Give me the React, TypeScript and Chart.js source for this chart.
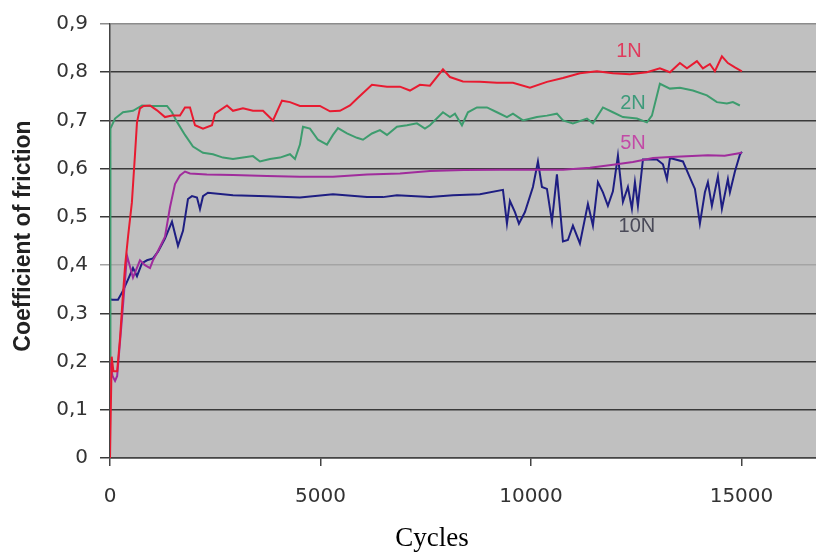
import React, { useEffect, useRef } from 'react';
import { Chart, registerables } from 'chart.js';

Chart.register(...registerables);

// ---- Data ----
const cycles1N = [0, 40, 80, 170, 240, 300, 360, 430, 520, 594, 641, 712, 800, 950, 1116, 1306, 1472, 1662, 1781, 1900, 2019, 2209, 2422, 2494, 2779, 2921, 3159, 3396, 3634, 3871, 4085, 4275, 4512, 4750, 4987, 5225, 5462, 5700, 5890, 6222, 6579, 6888, 7125, 7362, 7600, 7909, 8075, 8384, 8787, 9191, 9571, 9975, 10379, 10759, 11162, 11566, 11946, 12350, 12754, 13062, 13300, 13537, 13704, 13941, 14084, 14250, 14369, 14535, 14677, 14844, 15010];
const friction1N = [0, 0.21, 0.18, 0.18, 0.25, 0.33, 0.40, 0.46, 0.53, 0.63, 0.696, 0.725, 0.73, 0.731, 0.721, 0.707, 0.71, 0.71, 0.727, 0.727, 0.69, 0.683, 0.69, 0.714, 0.731, 0.72, 0.725, 0.72, 0.72, 0.70, 0.741, 0.738, 0.73, 0.73, 0.73, 0.719, 0.72, 0.731, 0.747, 0.774, 0.77, 0.77, 0.762, 0.774, 0.772, 0.806, 0.79, 0.781, 0.78, 0.778, 0.778, 0.768, 0.78, 0.788, 0.798, 0.802, 0.798, 0.796, 0.80, 0.808, 0.80, 0.819, 0.808, 0.823, 0.808, 0.817, 0.802, 0.833, 0.819, 0.81, 0.802];

const cycles2N = [0, 10, 119, 309, 546, 760, 950, 1140, 1354, 1472, 1591, 1781, 1971, 2209, 2446, 2684, 2921, 3159, 3396, 3562, 3800, 4037, 4275, 4394, 4512, 4584, 4750, 4940, 5154, 5296, 5415, 5629, 5866, 6009, 6222, 6412, 6579, 6816, 7054, 7291, 7481, 7600, 7909, 8075, 8194, 8360, 8502, 8716, 8954, 9191, 9429, 9571, 9809, 10141, 10379, 10616, 10759, 10996, 11329, 11471, 11709, 11946, 12184, 12516, 12754, 12872, 13062, 13300, 13537, 13846, 14179, 14416, 14654, 14796, 14962];
const friction2N = [0.2, 0.683, 0.704, 0.717, 0.72, 0.731, 0.73, 0.73, 0.73, 0.717, 0.697, 0.67, 0.646, 0.633, 0.63, 0.623, 0.62, 0.623, 0.626, 0.615, 0.62, 0.623, 0.63, 0.62, 0.65, 0.687, 0.683, 0.66, 0.65, 0.67, 0.684, 0.673, 0.664, 0.66, 0.673, 0.68, 0.67, 0.687, 0.69, 0.694, 0.683, 0.69, 0.717, 0.707, 0.714, 0.69, 0.717, 0.727, 0.727, 0.717, 0.707, 0.714, 0.70, 0.707, 0.71, 0.714, 0.70, 0.694, 0.704, 0.694, 0.727, 0.717, 0.707, 0.704, 0.696, 0.71, 0.776, 0.766, 0.768, 0.762, 0.752, 0.738, 0.735, 0.738, 0.731];

const cycles5N = [0, 60, 120, 170, 285, 404, 546, 712, 831, 950, 1021, 1116, 1306, 1425, 1544, 1662, 1781, 1900, 2300, 2921, 3729, 4512, 5296, 6104, 6888, 7600, 8400, 9260, 10100, 10760, 11400, 11950, 12420, 12900, 13300, 13700, 14200, 14600, 15010];
const friction5N = [0.2, 0.17, 0.16, 0.17, 0.29, 0.42, 0.374, 0.41, 0.40, 0.394, 0.41, 0.425, 0.459, 0.52, 0.568, 0.586, 0.594, 0.59, 0.588, 0.587, 0.585, 0.583, 0.583, 0.588, 0.59, 0.595, 0.597, 0.598, 0.598, 0.598, 0.602, 0.608, 0.614, 0.622, 0.624, 0.626, 0.628, 0.627, 0.633];

const cycles10N = [0, 48, 190, 309, 427, 546, 641, 760, 879, 1021, 1140, 1306, 1472, 1615, 1734, 1852, 1947, 2066, 2137, 2209, 2327, 2921, 3729, 4512, 5296, 6104, 6484, 6816, 7600, 8146, 8787, 9334, 9429, 9500, 9619, 9714, 9856, 10046, 10165, 10260, 10379, 10498, 10616, 10759, 10877, 10996, 11162, 11352, 11471, 11590, 11709, 11827, 11946, 12065, 12184, 12302, 12397, 12469, 12540, 12659, 12991, 13134, 13229, 13300, 13609, 13822, 13894, 14012, 14131, 14202, 14297, 14440, 14535, 14677, 14725, 14844, 14962, 15010];
const friction10N = [0.33, 0.328, 0.328, 0.347, 0.37, 0.394, 0.377, 0.404, 0.41, 0.414, 0.428, 0.455, 0.49, 0.44, 0.471, 0.537, 0.543, 0.54, 0.516, 0.543, 0.55, 0.545, 0.543, 0.54, 0.547, 0.541, 0.541, 0.545, 0.541, 0.545, 0.547, 0.556, 0.486, 0.533, 0.51, 0.486, 0.51, 0.562, 0.615, 0.562, 0.558, 0.49, 0.588, 0.449, 0.452, 0.482, 0.445, 0.527, 0.482, 0.572, 0.551, 0.523, 0.553, 0.627, 0.531, 0.562, 0.517, 0.572, 0.523, 0.619, 0.619, 0.609, 0.578, 0.622, 0.615, 0.572, 0.558, 0.486, 0.551, 0.572, 0.523, 0.584, 0.517, 0.578, 0.551, 0.594, 0.629, 0.635];

const seriesNames = ['1N', '2N', '5N', '10N'];
const seriesColors = ['#e81a30', '#3d9c6e', '#a02c9c', '#1e1e82'];
const labelColors = ['#e03a5c', '#3d9a7a', '#c24aa6', '#4a4a58'];
// label anchor positions in data units (cycles, friction)
const labelCycles = [12326, 12421, 12421, 12516];
const labelFriction = [0.842, 0.736, 0.652, 0.48];

const xTickValues = [0, 5000, 10000, 15000];
const xMin = 0;
const xMax = 16770;
const yMin = 0;
const yMax = 0.9;
const yStep = 0.1;

const xTitle = 'Cycles';
const yTitle = 'Coefficient of friction';

function toPoints(xs: number[], ys: number[]) {
  return xs.map((x, i) => ({ x, y: ys[i] }));
}

export default function App() {
  const ref = useRef<HTMLCanvasElement>(null);

  useEffect(() => {
    if (!ref.current) return;
    const allX = [cycles1N, cycles2N, cycles5N, cycles10N];
    const allY = [friction1N, friction2N, friction5N, friction10N];

    const bgPlugin = {
      id: 'plotBg',
      beforeDraw(chart: any) {
        const { ctx, chartArea } = chart;
        ctx.save();
        ctx.fillStyle = '#c0c0c0';
        ctx.fillRect(chartArea.left, chartArea.top, chartArea.right - chartArea.left, chartArea.bottom - chartArea.top);
        ctx.restore();
      },
    };

    const textPlugin = {
      id: 'texts',
      afterDatasetsDraw(chart: any) {
        const { ctx, scales } = chart;
        ctx.save();
        ctx.font = '20px "Liberation Sans", Arial, sans-serif';
        ctx.textAlign = 'center';
        ctx.textBaseline = 'middle';
        seriesNames.forEach((name, i) => {
          ctx.fillStyle = labelColors[i];
          ctx.fillText(name, scales.x.getPixelForValue(labelCycles[i]), scales.y.getPixelForValue(labelFriction[i]));
        });
        ctx.restore();
      },
      afterDraw(chart: any) {
        const { ctx } = chart;
        ctx.save();
        ctx.fillStyle = '#000';
        ctx.font = '27px "Liberation Serif", "Times New Roman", serif';
        ctx.textAlign = 'center';
        ctx.textBaseline = 'alphabetic';
        ctx.fillText(xTitle, 432, 546);
        ctx.translate(24, 236);
        ctx.rotate(-Math.PI / 2);
        ctx.fillStyle = '#222';
        ctx.font = 'bold 23px "Liberation Sans", Arial, sans-serif';
        ctx.textBaseline = 'middle';
        ctx.fillText(yTitle, 0, 0);
        ctx.restore();
      },
    };

    const chart = new Chart(ref.current, {
      type: 'line',
      data: {
        datasets: seriesNames.map((name, i) => ({
          label: name,
          data: toPoints(allX[i], allY[i]),
          borderColor: seriesColors[i],
          backgroundColor: seriesColors[i],
          borderWidth: 2,
          pointRadius: 0,
          tension: 0,
          fill: false,
        })),
      },
      options: {
        animation: false,
        responsive: false,
        maintainAspectRatio: false,
        parsing: false as any,
        layout: { padding: { top: 17, left: 0, right: 0, bottom: 0 } },
        plugins: { legend: { display: false }, tooltip: { enabled: false }, title: { display: false } },
        scales: {
          x: {
            type: 'linear',
            min: xMin,
            max: xMax,
            afterBuildTicks: (s: any) => {
              s.ticks = xTickValues.map((v) => ({ value: v }));
            },
            ticks: {
              autoSkip: false,
              maxRotation: 0,
              callback: (v: any) => String(v),
              font: { family: 'DejaVu Sans', size: 20 },
              color: '#333',
              padding: 19,
            },
            grid: { drawOnChartArea: false, drawTicks: true, tickLength: 8, color: '#444', lineWidth: 1.5 },
            border: { display: true, color: '#444', width: 1.5 },
            afterFit: (s: any) => { s.height = 94; },
          },
          y: {
            type: 'linear',
            min: yMin,
            max: yMax,
            ticks: {
              stepSize: yStep,
              callback: (v: any) => (Math.abs(v) < 1e-9 ? '0' : Number(v).toFixed(1).replace('.', ',')),
              font: { family: 'DejaVu Sans', size: 20 },
              color: '#333',
              padding: 12,
            },
            grid: {
              color: (c: any) => {
                const v = c.tick ? c.tick.value : 0;
                if (Math.abs(v - 0.9) < 1e-6) return '#8c8c8c';
                if (Math.abs(v - 0.4) < 1e-6) return '#a4a4a4';
                return '#3a3a3a';
              },
              lineWidth: 1.5,
              tickLength: 10,
              drawTicks: true,
            },
            border: { display: true, color: '#444', width: 1.5 },
            afterFit: (s: any) => { s.width = 110; },
          },
        },
      } as any,
      plugins: [bgPlugin, textPlugin],
    });
    return () => chart.destroy();
  }, []);

  return (
    <div style={{ position: 'absolute', left: 0, top: 0, width: 816, height: 552, background: '#fff' }}>
      <canvas ref={ref} width={816} height={552} style={{ width: 816, height: 552, display: 'block' }} />
    </div>
  );
}
